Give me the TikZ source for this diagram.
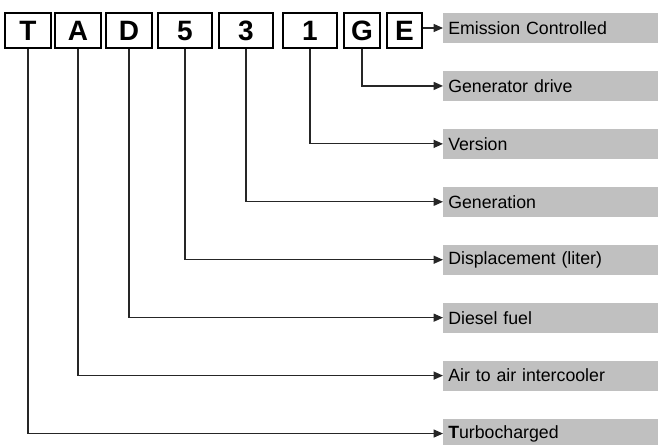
\documentclass[tikz,border=0pt]{standalone}
\usepackage{fontspec}
\setmainfont{Liberation Sans}
\usetikzlibrary{positioning,arrows.meta}
\definecolor{labelgray}{RGB}{192,192,192}
\tikzstyle{letter} = [draw=black,
                      line width=1.4pt,
                      minimum height=26.35pt,
                      inner sep=0pt,
                      font=\fontsize{21}{25}\selectfont\bfseries,
                      anchor=north west]
\tikzstyle{meaning} = [fill=labelgray,
                       text width=153.75pt,
                       minimum height=22.5pt,
                       inner xsep=3.75pt,
                       inner ysep=0pt,
                       align=left,
                       font=\fontsize{13.3}{15}\selectfont,
                       anchor=west]
\tikzstyle{lead} = [draw=black!85,
                    line width=0.9pt,
                    -{Triangle[length=7pt,width=6pt]}]
\begin{document}
\begin{tikzpicture}[x=0.75pt,y=-0.75pt]
    \useasboundingbox (0,0) rectangle (658,444);

    %%%%%%%%%%%%%%%%
    % MODEL LETTERS %
    %%%%%%%%%%%%%%%%
    \node[letter, minimum width=34.6pt] (cT) at (4,12) {T};
    \node[letter, minimum width=34.6pt, right=1.5pt of cT] (cA) {A};
    \node[letter, minimum width=34.6pt, right=2.25pt of cA] (cD) {D};
    \node[letter, minimum width=40.6pt, right=3pt of cD] (c5) {5};
    \node[letter, minimum width=40.6pt, right=3.75pt of c5] (c3) {3};
    \node[letter, minimum width=40.6pt, right=6pt of c3] (c1) {1};
    \node[letter, minimum width=27.1pt, right=3.75pt of c1] (cG) {G};
    \node[letter, minimum width=26.35pt, right=3.75pt of cG] (cE) {E};

    %%%%%%%%%%%%
    % MEANINGS %
    %%%%%%%%%%%%
    \node[meaning] (lE) at (443,28) {Emission Controlled};
    \node[meaning, below=20.55pt of lE] (lG) {Generator drive};
    \node[meaning, below=20.55pt of lG] (l1) {Version};
    \node[meaning, below=20.55pt of l1] (l3) {Generation};
    \node[meaning, below=20.55pt of l3] (l5) {Displacement (liter)};
    \node[meaning, below=20.55pt of l5] (lD) {Diesel fuel};
    \node[meaning, below=20.55pt of lD] (lA) {Air to air intercooler};
    \node[meaning, below=20.55pt of lA] (lT) {\textbf{T}urbocharged};

    % leads
    \draw[lead] (lE.west -| cE.east) -- (lE.west);
    \draw[lead] (cG.south) |- (lG.west);
    \draw[lead] (c1.south) |- (l1.west);
    \draw[lead] (c3.south) |- (l3.west);
    \draw[lead] (c5.south) |- (l5.west);
    \draw[lead] (cD.south) |- (lD.west);
    \draw[lead] (cA.south) |- (lA.west);
    \draw[lead] (cT.south) |- (lT.west);

\end{tikzpicture}
\end{document}
